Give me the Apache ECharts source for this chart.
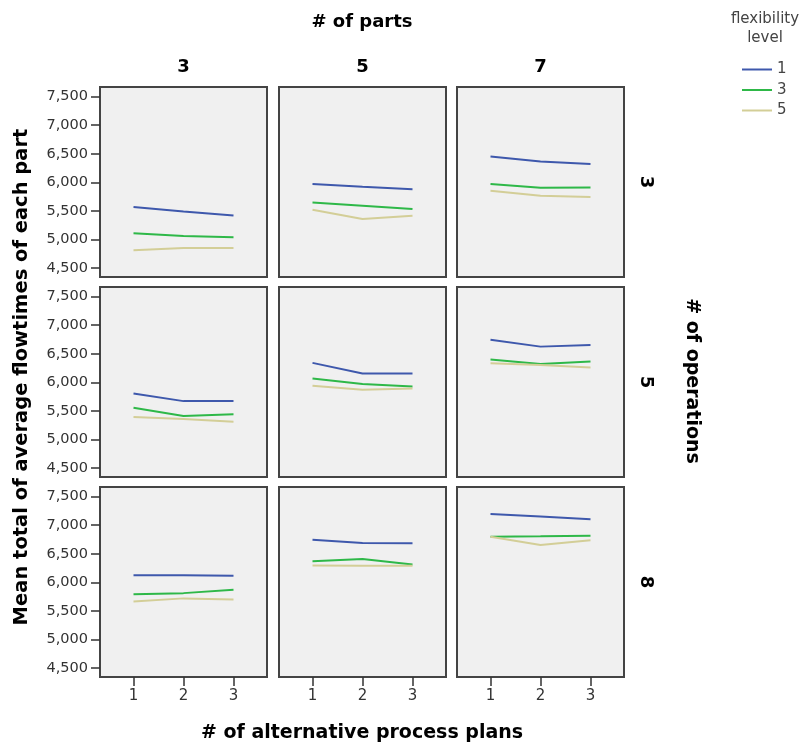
<!DOCTYPE html>
<html>
<head>
<meta charset="utf-8">
<script src="https://cdn.jsdelivr.net/npm/echarts@6/dist/echarts.min.js"></script>
<style>
  html, body { margin: 0; padding: 0; background: #fff; }
  #charts_box { width: 803px; height: 747px; }
</style>
</head>
<body>
<div id="charts_box"></div>
<script>
// x: # of alternative process plans
var plans = [1, 2, 3];
var partsLevels = ['3', '5', '7'];      // columns
var opsLevels = ['3', '5', '8'];        // rows
var flexLevels = ['1', '3', '5'];
var yTicks = [4500, 5000, 5500, 6000, 6500, 7000, 7500];

// mean flowtimes, one triple per panel, row by row (ops 3,5,8) x (parts 3,5,7)
var flex1 = [
    [5565, 5490, 5420], [5970, 5920, 5880], [6450, 6365, 6320],
    [5805, 5670, 5670], [6340, 6155, 6155], [6745, 6625, 6655],
    [6125, 6125, 6115], [6745, 6690, 6685], [7195, 7155, 7105]
];
var flex3 = [
    [5105, 5060, 5035], [5645, 5590, 5530], [5970, 5905, 5910],
    [5555, 5410, 5440], [6065, 5970, 5925], [6400, 6320, 6365],
    [5790, 5810, 5870], [6370, 6410, 6310], [6800, 6805, 6815]
];
var flex5 = [
    [4810, 4850, 4850], [5520, 5355, 5415], [5850, 5765, 5740],
    [5390, 5355, 5310], [5940, 5870, 5890], [6335, 6305, 6260],
    [5665, 5718, 5700], [6295, 6290, 6290], [6800, 6655, 6735]
];
var flexData = [flex1, flex3, flex5];
var colors = ['#3E58AC', '#2EB848', '#D3CE97'];

window.onload = function () {
    var myChart = echarts.init(document.getElementById('charts_box'));

    var lefts = [100, 279, 457];
    var tops = [87, 287, 487];
    var grids = [], xAxes = [], yAxes = [], series = [];

    for (var r = 0; r < 3; r++) {
        for (var c = 0; c < 3; c++) {
            var k = r * 3 + c;
            grids.push({
                left: lefts[c], top: tops[r], width: 167, height: 190,
                show: true, backgroundColor: '#f0f0f0',
                borderColor: '#444', borderWidth: 2
            });
            xAxes.push({
                gridIndex: k, type: 'value', min: 0.33, max: 3.67,
                axisLine: { show: false },
                splitLine: { show: false },
                axisTick: {
                    show: r === 2, customValues: plans, length: 9,
                    lineStyle: { color: '#333', width: 1.5 }
                },
                axisLabel: {
                    show: r === 2, customValues: plans, margin: 12,
                    color: '#333', fontSize: 15, fontFamily: 'DejaVu Sans'
                }
            });
            yAxes.push({
                gridIndex: k, type: 'value', min: 4340, max: 7670,
                axisLine: { show: false },
                splitLine: { show: false },
                axisTick: {
                    show: c === 0, customValues: yTicks, length: 9,
                    lineStyle: { color: '#333', width: 1.5 }
                },
                axisLabel: {
                    show: c === 0, customValues: yTicks, margin: 12,
                    color: '#333', fontSize: 14.5, fontFamily: 'DejaVu Sans',
                    formatter: function (v) { return v.toLocaleString('en-US'); }
                }
            });
            for (var f = 0; f < 3; f++) {
                series.push({
                    name: flexLevels[f],
                    type: 'line',
                    xAxisIndex: k, yAxisIndex: k,
                    symbol: 'none',
                    color: colors[f],
                    lineStyle: { width: 2 },
                    data: plans.map(function (p, i) { return [p, flexData[f][k][i]]; })
                });
            }
        }
    }

    function bold(size) { return 'bold ' + size + 'px "DejaVu Sans"'; }
    var graphics = [
        { type: 'text', x: 362, y: 22, style: { text: '# of parts', font: bold(18), fill: '#000', align: 'center', verticalAlign: 'middle' } },
        { type: 'text', x: 362, y: 733, style: { text: '# of alternative process plans', font: bold(19), fill: '#000', align: 'center', verticalAlign: 'middle' } },
        { type: 'text', x: 22, y: 377, rotation: Math.PI / 2, style: { text: 'Mean total of average flowtimes of each part', font: bold(19.5), fill: '#000', align: 'center', verticalAlign: 'middle' } },
        { type: 'text', x: 692, y: 381, rotation: -Math.PI / 2, style: { text: '# of operations', font: bold(19), fill: '#000', align: 'center', verticalAlign: 'middle' } },
        { type: 'text', x: 765, y: 29, style: { text: 'flexibility\nlevel', font: '15px "DejaVu Sans"', lineHeight: 19, fill: '#444', align: 'center', verticalAlign: 'middle' } }
    ];
    partsLevels.forEach(function (p, c) {
        graphics.push({ type: 'text', x: lefts[c] + 83.5, y: 67, style: { text: p, font: bold(18), fill: '#000', align: 'center', verticalAlign: 'middle' } });
    });
    opsLevels.forEach(function (o, r) {
        graphics.push({ type: 'text', x: 646, y: tops[r] + 95, rotation: -Math.PI / 2, style: { text: o, font: bold(18), fill: '#000', align: 'center', verticalAlign: 'middle' } });
    });

    var option = {
        animation: false,
        legend: {
            data: flexLevels,
            orient: 'vertical',
            left: 742, top: 62,
            padding: 0,
            icon: 'rect',
            itemWidth: 30, itemHeight: 2,
            itemGap: 5.5,
            textStyle: { color: '#444', fontSize: 15, fontFamily: 'DejaVu Sans' }
        },
        grid: grids,
        xAxis: xAxes,
        yAxis: yAxes,
        series: series,
        graphic: graphics
    };
    myChart.setOption(option);
};
</script>
</body>
</html>
